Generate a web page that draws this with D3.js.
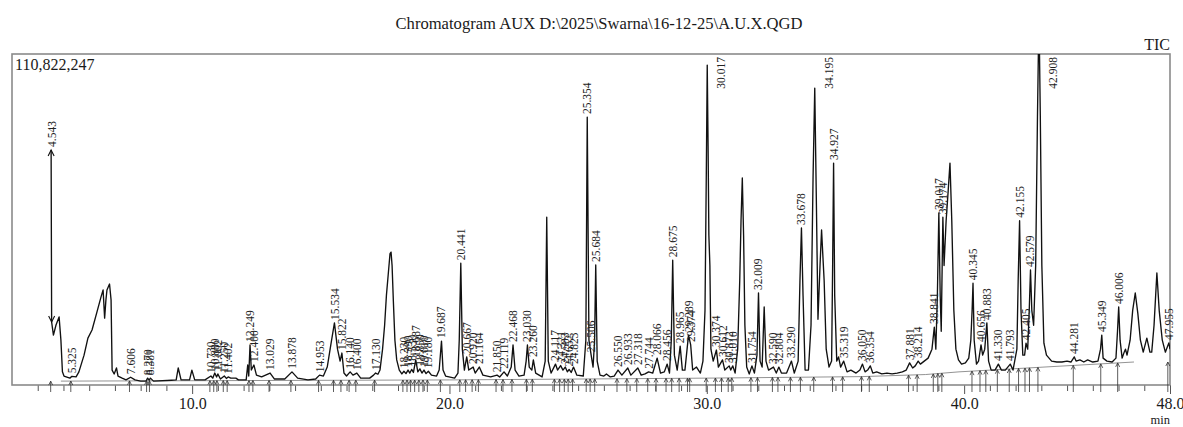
<!DOCTYPE html>
<html><head><meta charset="utf-8">
<script src="https://cdn.jsdelivr.net/npm/d3@7"></script>
<style>
html,body{margin:0;padding:0;background:#fff;}
svg{display:block;}
svg text{font-family:"Liberation Serif","Times New Roman",Times,serif !important;}
</style></head><body>
<svg id="chart" width="1183" height="427"></svg>
<script>
// ---------- data ----------
const chartTitle = "Chromatogram AUX D:\\2025\\Swarna\\16-12-25\\A.U.X.QGD";
const fullScaleLabel = "110,822,247";
const detectorLabel = "TIC";
const axisUnit = "min";
const fullScale = 110.822247;          // million counts at top of frame
const timeDomain = [3.0, 48.0];        // minutes
const majorTicks = [10, 20, 30, 40, 48];
const minorTicks = [4,5,6,7,8,9,11,12,13,14,15,16,17,18,19,21,22,23,24,25,26,27,28,29,31,32,33,34,35,36,37,38,39,41,42,43,44,45,46,47];

// TIC trace: [retention time (min), intensity (million counts)]
const trace = [
[4.52,78.7],[4.54,21.1],[4.61,16.7],[4.71,20.1],[4.83,22.8],[4.90,15.1],[4.96,4.4],[5.02,3.0],[5.25,2.3],[5.33,2.9],[5.49,2.7],[5.60,4.4],[5.80,10.0],[5.95,15.7],[6.11,18.4],[6.30,24.4],[6.46,29.5],[6.54,31.8],[6.60,22.4],[6.65,28.5],[6.69,31.8],[6.79,33.8],[6.85,28.5],[6.89,5.0],[6.97,3.7],[7.06,5.7],[7.12,3.0],[7.28,2.3],[7.43,1.7],[7.61,2.6],[7.78,1.7],[8.00,1.3],[8.21,1.3],[8.27,2.3],[8.33,1.6],[8.38,2.3],[8.50,1.3],[9.20,1.6],[9.38,1.7],[9.46,5.7],[9.57,1.7],[9.90,1.7],[9.99,5.0],[10.10,1.7],[10.50,1.7],[10.73,3.0],[10.80,2.3],[10.88,4.0],[10.95,2.7],[11.00,3.7],[11.10,2.0],[11.25,3.0],[11.33,2.2],[11.40,2.7],[11.50,2.3],[11.70,2.3],[11.80,1.7],[12.10,1.7],[12.16,6.7],[12.20,3.0],[12.25,13.4],[12.30,5.0],[12.40,6.7],[12.50,3.3],[12.70,2.7],[13.03,4.0],[13.20,2.0],[13.60,2.0],[13.88,4.4],[14.10,2.3],[14.50,1.7],[14.80,2.0],[14.95,3.3],[15.10,3.0],[15.25,6.0],[15.40,14.0],[15.53,20.8],[15.65,12.0],[15.75,8.0],[15.82,10.7],[15.90,4.0],[16.00,3.0],[16.14,4.4],[16.25,3.3],[16.40,4.0],[16.55,2.3],[16.90,2.3],[17.05,3.3],[17.13,4.0],[17.22,3.6],[17.30,5.0],[17.40,12.0],[17.48,20.0],[17.55,30.0],[17.62,37.0],[17.69,44.0],[17.73,44.5],[17.77,40.0],[17.82,28.0],[17.88,15.0],[17.95,8.4],[18.05,5.0],[18.15,3.7],[18.23,4.6],[18.31,3.8],[18.39,5.0],[18.46,4.0],[18.53,5.2],[18.60,4.2],[18.69,8.4],[18.77,4.4],[18.85,5.4],[18.93,4.0],[19.01,5.0],[19.09,3.8],[19.18,4.6],[19.30,3.3],[19.50,3.0],[19.60,5.0],[19.69,14.7],[19.75,5.0],[19.85,3.0],[20.20,2.3],[20.33,4.0],[20.38,15.0],[20.44,40.8],[20.50,12.0],[20.58,5.0],[20.67,9.4],[20.75,5.0],[20.92,6.0],[21.00,4.0],[21.16,6.0],[21.30,3.3],[21.60,2.7],[21.85,3.3],[21.95,2.7],[22.12,4.4],[22.25,3.0],[22.40,6.0],[22.47,13.4],[22.55,5.0],[22.70,3.0],[22.90,3.3],[22.98,8.0],[23.03,13.4],[23.10,6.0],[23.20,5.0],[23.26,8.4],[23.35,4.0],[23.60,2.7],[23.72,8.0],[23.78,56.2],[23.84,8.0],[23.95,4.0],[24.12,7.0],[24.20,5.0],[24.32,6.5],[24.41,5.0],[24.50,6.0],[24.58,4.4],[24.65,5.2],[24.73,4.2],[24.82,6.0],[24.95,3.3],[25.20,3.0],[25.30,15.0],[25.354,89.7],[25.42,15.0],[25.506,10.0],[25.58,6.0],[25.64,15.0],[25.684,40.2],[25.74,8.0],[25.85,3.3],[26.00,3.0],[26.10,3.7],[26.25,2.7],[26.40,3.0],[26.55,5.0],[26.70,3.3],[26.93,5.7],[27.05,3.3],[27.32,5.7],[27.45,3.3],[27.60,3.7],[27.74,4.4],[27.90,4.0],[28.07,9.0],[28.20,4.0],[28.35,4.4],[28.46,7.0],[28.55,4.0],[28.62,15.0],[28.675,41.8],[28.74,10.0],[28.85,5.0],[28.965,13.0],[29.05,5.0],[29.15,5.0],[29.289,16.7],[29.374,13.4],[29.45,5.0],[29.60,6.0],[29.75,4.0],[29.85,8.0],[29.93,25.0],[29.98,70.0],[30.017,107.1],[30.05,80.0],[30.08,50.2],[30.12,40.0],[30.16,12.0],[30.25,8.0],[30.374,11.7],[30.45,6.0],[30.61,8.4],[30.70,5.0],[30.87,6.4],[30.93,5.0],[31.01,6.4],[31.10,4.0],[31.20,12.0],[31.28,35.0],[31.33,55.0],[31.38,69.3],[31.43,50.0],[31.48,20.0],[31.55,6.0],[31.65,3.7],[31.754,6.4],[31.85,4.0],[31.95,10.0],[32.009,30.8],[32.07,8.0],[32.15,6.0],[32.23,26.1],[32.30,8.0],[32.40,5.0],[32.59,6.0],[32.70,4.0],[32.80,6.0],[32.90,4.0],[33.10,4.0],[33.29,8.0],[33.40,4.0],[33.55,8.0],[33.62,35.0],[33.678,52.6],[33.74,30.0],[33.82,5.0],[33.95,5.0],[34.05,20.0],[34.13,70.0],[34.195,99.4],[34.26,60.0],[34.32,22.0],[34.40,40.0],[34.46,51.9],[34.50,45.0],[34.56,35.0],[34.64,12.0],[34.75,6.0],[34.85,8.0],[34.89,40.0],[34.927,74.3],[34.97,30.0],[35.05,8.0],[35.12,9.4],[35.20,6.0],[35.32,8.0],[35.45,4.4],[35.60,5.0],[35.80,4.0],[35.95,5.0],[36.05,7.0],[36.15,4.4],[36.25,5.0],[36.354,6.4],[36.45,4.0],[36.60,4.4],[36.80,3.7],[37.00,4.0],[37.20,3.7],[37.40,4.0],[37.60,4.4],[37.75,5.0],[37.881,7.4],[38.00,5.7],[38.10,6.4],[38.214,8.0],[38.30,7.0],[38.45,8.0],[38.60,9.0],[38.75,12.0],[38.841,19.4],[38.90,12.0],[38.96,30.0],[39.017,57.6],[39.07,30.0],[39.11,18.0],[39.174,56.2],[39.22,40.0],[39.30,55.0],[39.38,65.0],[39.45,74.3],[39.52,55.0],[39.60,25.0],[39.68,12.0],[39.78,8.4],[39.90,7.0],[40.05,7.4],[40.18,9.0],[40.26,15.0],[40.31,25.0],[40.345,34.1],[40.39,15.0],[40.48,7.0],[40.56,8.0],[40.656,13.4],[40.72,10.0],[40.80,12.0],[40.883,20.8],[40.95,8.0],[41.05,5.0],[41.20,5.0],[41.33,7.0],[41.45,5.0],[41.60,5.0],[41.793,7.0],[41.90,5.0],[42.05,12.0],[42.10,35.0],[42.155,55.0],[42.21,25.0],[42.28,10.0],[42.35,10.0],[42.405,14.0],[42.47,12.0],[42.53,25.0],[42.579,38.5],[42.63,25.0],[42.70,20.0],[42.78,40.0],[42.85,90.0],[42.908,125.0],[42.96,90.0],[43.02,40.0],[43.10,14.0],[43.20,10.0],[43.40,8.0],[43.60,7.7],[43.80,7.7],[44.00,8.0],[44.15,7.7],[44.281,9.4],[44.35,8.0],[44.50,8.4],[44.65,7.7],[44.80,8.4],[45.00,7.7],[45.20,8.0],[45.30,12.0],[45.349,16.7],[45.40,9.0],[45.55,8.0],[45.75,7.7],[45.90,9.0],[45.96,18.0],[46.006,26.1],[46.06,15.0],[46.14,9.0],[46.22,11.0],[46.27,12.0],[46.33,10.0],[46.45,15.0],[46.55,25.0],[46.65,30.8],[46.75,24.0],[46.85,15.0],[46.96,11.0],[47.10,15.7],[47.22,11.0],[47.29,11.0],[47.38,20.0],[47.49,37.5],[47.58,25.0],[47.70,15.0],[47.82,11.0],[47.955,14.1],[48.0,12.0]
];

// integration baseline drawn under the peaks
const baselineTime   = [4.9, 20.0, 30.0, 36.0, 38.5, 39.8, 46.6];
const baselineSignal = [1.3, 1.7, 2.3, 2.8, 3.5, 4.4, 7.7];

// retention-time labels of the integrated peaks
const peakLabels = ["4.543","5.325","7.606","8.270","8.381","10.730","10.880","11.002","11.250","11.402","12.249","12.400","13.029","13.878","14.953","15.534","15.822","16.140","16.400","17.130","18.230","18.390","18.530","18.687","18.850","19.010","19.180","19.687","20.441","20.667","20.920","21.164","21.850","22.119","22.468","23.030","23.260","24.117","24.321","24.503","24.652","24.823","25.354","25.506","25.684","26.550","26.933","27.318","27.744","28.066","28.456","28.675","28.965","29.289","29.374","30.017","30.374","30.612","30.872","31.010","31.754","32.009","32.590","32.804","33.290","33.678","34.195","34.927","35.319","36.050","36.354","37.881","38.214","38.841","39.017","39.174","40.345","40.656","40.883","41.330","41.793","42.155","42.405","42.579","42.908","44.281","45.349","46.006","47.955"];

// ---------- drawing ----------
const SERIF = "'Liberation Serif','Times New Roman',Times,serif";
const svg = d3.select("#chart");
const L = 12, R = 1170, T = 54, B = 385;
const x = d3.scaleLinear().domain(timeDomain).range([L, R]);
const y = d3.scaleLinear().domain([0, fullScale]).range([B, T]);

svg.append("defs").append("clipPath").attr("id","plotclip")
  .append("rect").attr("x",L).attr("y",T).attr("width",R-L).attr("height",B-T);

// title & captions
svg.append("text").attr("x",599).attr("y",29).attr("text-anchor","middle").attr("font-family",SERIF)
  .style("font-size","16.6px").attr("fill","#1a1a1a").text(chartTitle);
svg.append("text").attr("x",R).attr("y",50).attr("text-anchor","end").attr("font-family",SERIF)
  .style("font-size","16px").attr("fill","#1a1a1a").text(detectorLabel);

// axis ticks
const axisG = svg.append("g").attr("transform",`translate(0,${B})`);
axisG.call(d3.axisBottom(x).tickValues(minorTicks).tickSize(6).tickFormat(""));
axisG.call(g=>g.select(".domain").remove());
const axisM = svg.append("g").attr("transform",`translate(0,${B})`);
axisM.call(d3.axisBottom(x).tickValues(majorTicks).tickSize(9).tickPadding(4).tickFormat(d3.format(".1f")));
axisM.call(g=>g.select(".domain").remove());
axisM.attr("font-family",SERIF);
svg.selectAll(".tick line").attr("stroke","#555").attr("stroke-width",1);
axisM.selectAll(".tick text").style("font-size","16px").attr("font-family",SERIF).attr("fill","#1a1a1a");
svg.append("text").attr("x",R).attr("y",424.2).attr("text-anchor","end").attr("font-family",SERIF)
  .style("font-size","12.5px").attr("fill","#1a1a1a").text(axisUnit);

// frame
svg.append("rect").attr("x",L).attr("y",T).attr("width",R-L).attr("height",B-T)
  .attr("fill","none").attr("stroke","#8a8a8a").attr("stroke-width",1.6);

svg.append("text").attr("x",L+3).attr("y",70).attr("font-family",SERIF)
  .style("font-size","16px").attr("fill","#1a1a1a").text(fullScaleLabel);

// integration baseline
const baseData = baselineTime.map((t,i)=>[t, baselineSignal[i]]);
const baseInterp = t => {
  for (let i=1;i<baseData.length;i++){
    if (t <= baseData[i][0]) {
      const a = baseData[i-1], b = baseData[i];
      return a[1] + (b[1]-a[1])*(t-a[0])/(b[0]-a[0]);
    }
  }
  return baseData[baseData.length-1][1];
};
svg.append("path").datum(baseData)
  .attr("d", d3.line().x(d=>x(d[0])).y(d=>y(d[1])))
  .attr("fill","none").attr("stroke","#777").attr("stroke-width",0.8);

// trace
const plot = svg.append("g").attr("clip-path","url(#plotclip)");
plot.append("path").datum(trace)
  .attr("d", d3.line().x(d=>x(d[0])).y(d=>y(d[1])))
  .attr("fill","none").attr("stroke","#111").attr("stroke-width",1.35)
  .attr("stroke-linejoin","round");

// arrowheads on the first (off-scale start) segment
const p0 = [x(trace[0][0]), y(trace[0][1])], p1 = [x(trace[1][0]), y(trace[1][1])];
svg.append("path")
  .attr("d",`M${p0[0]-3},${p0[1]+6}L${p0[0]},${p0[1]}L${p0[0]+3},${p0[1]+6}M${p1[0]-3},${p1[1]-6}L${p1[0]},${p1[1]}L${p1[0]+3},${p1[1]-6}`)
  .attr("fill","none").attr("stroke","#111").attr("stroke-width",1.1);

// peak-start markers (small up arrows) and rotated labels
const bis = d3.bisector(d=>d[0]).left;
const traceAt = t => {
  const i = Math.max(1, Math.min(trace.length-1, bis(trace, t)));
  const a = trace[i-1], b = trace[i];
  return a[1] + (b[1]-a[1])*(t-a[0])/(b[0]-a[0]);
};
const apexOf = t => {
  let v = traceAt(t);
  trace.forEach(d=>{ if (Math.abs(d[0]-t) <= 0.035 && d[1] > v) v = d[1]; });
  return v;
};

const markG = svg.append("g").attr("stroke","#333").attr("stroke-width",0.8).attr("fill","none");
peakLabels.forEach(lbl=>{
  const t = +lbl - 0.04;
  const xb = x(t), yb = y(baseInterp(t));
  markG.append("path").attr("d",`M${xb},${B+7}L${xb},${yb}M${xb-2},${yb+4}L${xb},${yb}L${xb+2},${yb+4}`);
});

const labG = svg.append("g").attr("font-family",SERIF).style("font-size","11.5px").attr("fill","#222");
peakLabels.forEach(lbl=>{
  const t = +lbl;
  const v = Math.min(apexOf(t), fullScale);
  const xp = x(t), yp = y(v);
  const txt = labG.append("text").attr("font-family",SERIF).text(lbl).attr("text-anchor","start");
  const len = txt.node().getComputedTextLength();
  let ys = yp - 3, xo = 4;
  if (ys - len < T + 3) { ys = T + 3 + len; xo = 18; }
  txt.attr("transform",`translate(${xp+xo},${ys}) rotate(-90)`);
});
</script>
</body></html>
